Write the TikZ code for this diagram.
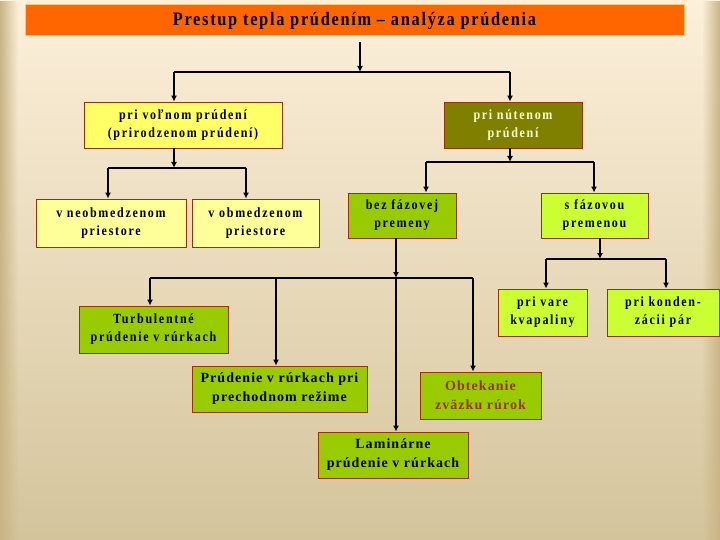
\documentclass[tikz,border=0pt]{standalone}
\usepackage{fontspec}
\setmainfont{Liberation Serif}
\newfontfamily\boxfont{Liberation Serif}[FakeStretch=0.86, LetterSpace=12]
\newfontfamily\lowfont{Liberation Serif}[LetterSpace=7.5]
\newfontfamily\titlefont{Liberation Serif}[FakeStretch=0.86, LetterSpace=9]
\usetikzlibrary{arrows.meta,fadings}
\definecolor{bgtop}{HTML}{FDF0DA}
\definecolor{bgmid}{HTML}{F1E8D0}
\definecolor{bgbot}{HTML}{D4C49C}
\definecolor{edgecol}{HTML}{C8B586}
\definecolor{orangec}{HTML}{FF6600}
\definecolor{titleedge}{HTML}{FFC870}
\definecolor{yel}{HTML}{FFFF66}
\definecolor{paleyel}{HTML}{FFFF99}
\definecolor{olive}{HTML}{808000}
\definecolor{greenc}{HTML}{99CC00}
\definecolor{lgreen}{HTML}{CCFF33}
\definecolor{brd}{HTML}{993300}
\definecolor{creamtext}{HTML}{FFFFCC}
\tikzset{
  box/.style={draw=brd, line width=0.9pt, inner sep=1pt, align=center,
    font=\boxfont\bfseries\fontsize{14}{18}\selectfont, text=black},
  lowbox/.style={box, font=\lowfont\bfseries\fontsize{14}{19}\selectfont},
  wire/.style={line width=1.8pt, black},
  conn/.style={wire, -{Latex[length=6pt,width=6pt]}},
}
\begin{document}
\begin{tikzpicture}[x=1pt,y=-1pt]
\useasboundingbox (0,0) rectangle (720,540);
% background
\shade[top color=bgtop, middle color=bgmid, bottom color=bgbot] (0,0) rectangle (720,540);
\fill[edgecol, path fading=east] (0,0) rectangle (18,540);
\fill[edgecol, path fading=west] (702,0) rectangle (720,540);
% title
\node[fill=orangec, draw=titleedge, line width=1pt, minimum width=659pt, minimum height=31pt, inner sep=0pt,
  font=\titlefont\bfseries\fontsize{19}{21}\selectfont] (title) at (354.5,20.5)
  {Prestup tepla prúdením – analýza prúdenia};
% boxes
\node[box, fill=yel, minimum width=198pt, minimum height=46pt] (n1) at (183,125)
  {pri voľnom prúdení\\(prirodzenom prúdení)};
\node[box, fill=olive, text=creamtext, minimum width=138pt, minimum height=46pt] (n2) at (513,125)
  {pri nútenom\\prúdení};
\node[box, fill=paleyel, minimum width=150pt, minimum height=48pt] (a1) at (111,223)
  {v neobmedzenom\\priestore};
\node[box, fill=paleyel, minimum width=127pt, minimum height=48pt] (a2) at (255.5,223)
  {v obmedzenom\\priestore};
\node[box, fill=greenc, minimum width=108pt, minimum height=45pt] (b1) at (402,215.5)
  {bez fázovej\\premeny};
\node[box, fill=lgreen, minimum width=107pt, minimum height=45pt] (b2) at (594.5,215.5)
  {s fázovou\\premenou};
\node[box, fill=lgreen, minimum width=89pt, minimum height=47pt] (c1) at (542.5,312.5)
  {pri vare\\kvapaliny};
\node[box, fill=lgreen, minimum width=112pt, minimum height=47pt] (c2) at (663,312.5)
  {pri konden-\\zácii pár};
\node[box, fill=greenc, minimum width=149pt, minimum height=47pt] (d1) at (153.5,329.5)
  {Turbulentné\\prúdenie v rúrkach};
\node[lowbox, fill=greenc, minimum width=175pt, minimum height=46pt] (d2) at (279.5,389)
  {Prúdenie v rúrkach pri\\prechodnom režime};
\node[lowbox, fill=greenc, minimum width=150pt, minimum height=46pt] (d3) at (393,455)
  {Laminárne\\prúdenie v rúrkach};
\node[lowbox, fill=greenc, text=brd, minimum width=121pt, minimum height=47pt] (d4) at (480.5,395.5)
  {Obtekanie\\zväzku rúrok};
% junction coordinates
\coordinate (t0) at (360,42);
\coordinate (j0) at (360,72);
\coordinate (j0L) at (174,72);
\coordinate (j0R) at (510,72);
\coordinate (j1) at (174,168);
\coordinate (j1L) at (108,168);
\coordinate (j1R) at (246,168);
\coordinate (j2) at (510,162);
\coordinate (j2L) at (426,162);
\coordinate (j2R) at (594,162);
\coordinate (j3) at (396,278);
\coordinate (j3L) at (150,278);
\coordinate (j3M) at (276,278);
\coordinate (j3R) at (473,278);
\coordinate (j4) at (600,259);
\coordinate (j4L) at (546,259);
\coordinate (j4R) at (666,259);
% connectors
\draw[conn] (t0) -- (j0);
\draw[wire] (j0L) -- (j0R);
\draw[conn] (j0L) -- (j0L |- n1.north);
\draw[conn] (j0R) -- (j0R |- n2.north);
\draw[conn] (n1.south -| j1) -- (j1);
\draw[wire] (j1L) -- (j1R);
\draw[conn] (j1L) -- (j1L |- a1.north);
\draw[conn] (j1R) -- (j1R |- a2.north);
\draw[conn] (n2.south -| j2) -- (j2);
\draw[wire] (j2L) -- (j2R);
\draw[conn] (j2L) -- (j2L |- b1.north);
\draw[conn] (j2R) -- (j2R |- b2.north);
\draw[conn] (b1.south -| j3) -- (j3);
\draw[wire] (j3L) -- (j3R);
\draw[conn] (j3L) -- (j3L |- d1.north);
\draw[conn] (j3M) -- (j3M |- d2.north);
\draw[conn] (j3) -- (j3 |- d3.north);
\draw[conn] (j3R) -- (j3R |- d4.north);
\draw[conn] (b2.south -| j4) -- (j4);
\draw[wire] (j4L) -- (j4R);
\draw[conn] (j4L) -- (j4L |- c1.north);
\draw[conn] (j4R) -- (j4R |- c2.north);
\end{tikzpicture}
\end{document}
